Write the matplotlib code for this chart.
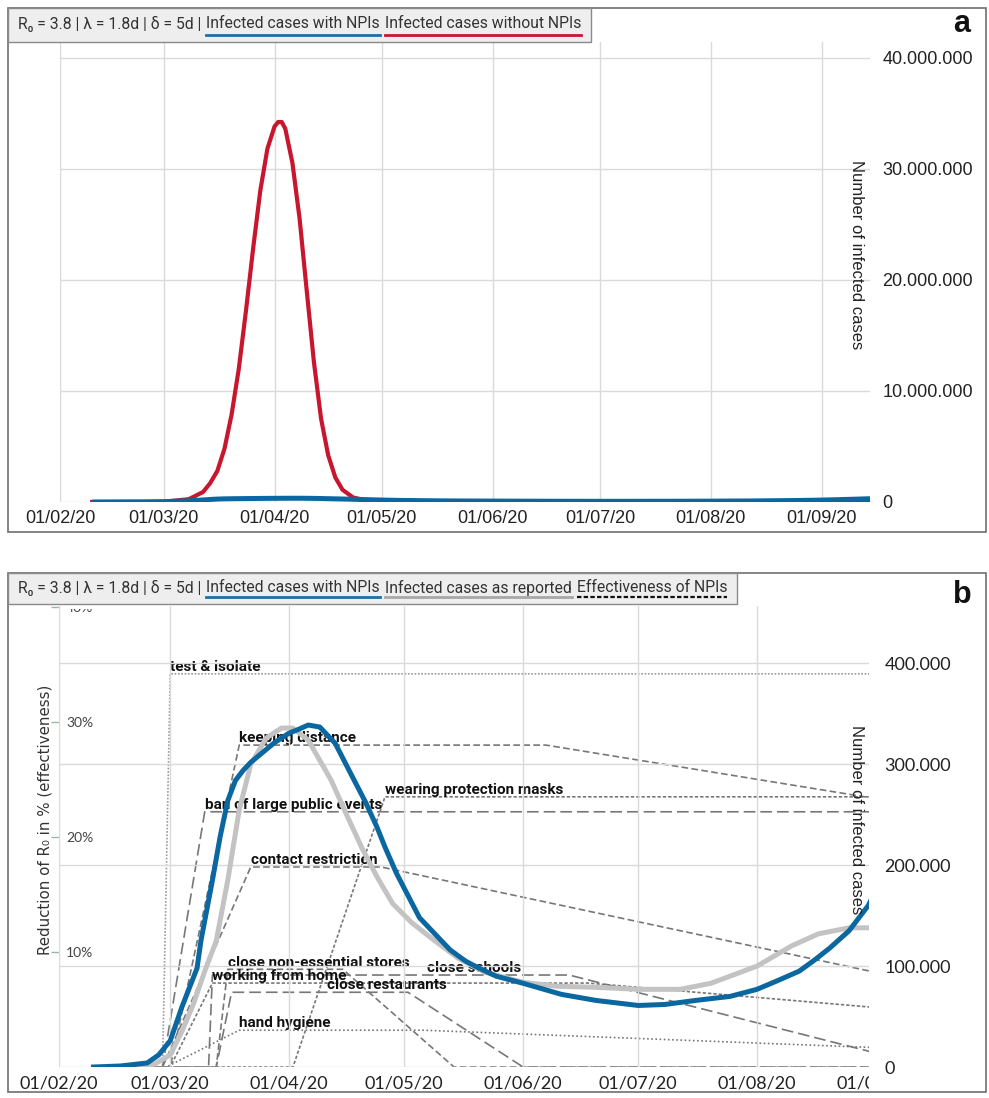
import matplotlib
matplotlib.use('Agg')
import matplotlib.pyplot as plt
import matplotlib.dates as mdates
from matplotlib.lines import Line2D
from matplotlib.patches import Rectangle
from matplotlib.transforms import Bbox, TransformedBbox, offset_copy
import numpy as np
import pandas as pd

# ---- data ----
# infected cases with NPIs (blue), both panels
npi_case_dates = ['2020-02-10', '2020-02-17', '2020-02-24', '2020-02-27', '2020-03-01', '2020-03-04',
                  '2020-03-08', '2020-03-09', '2020-03-12', '2020-03-14', '2020-03-16', '2020-03-18',
                  '2020-03-20', '2020-03-22', '2020-03-28', '2020-04-01', '2020-04-03', '2020-04-06',
                  '2020-04-09', '2020-04-13', '2020-04-18', '2020-04-21', '2020-04-24', '2020-04-26',
                  '2020-04-29', '2020-05-02', '2020-05-05', '2020-05-08', '2020-05-10', '2020-05-13',
                  '2020-05-17', '2020-05-20', '2020-05-25', '2020-06-01', '2020-06-11', '2020-06-20',
                  '2020-07-01', '2020-07-08', '2020-07-16', '2020-07-25', '2020-08-01', '2020-08-06',
                  '2020-08-12', '2020-08-16', '2020-08-20', '2020-08-25', '2020-08-30', '2020-09-05',
                  '2020-09-10', '2020-09-15']
npi_cases = [0, 1000, 4000, 12000, 26000, 59000,
             98000, 125000, 185000, 228000, 264000, 284000,
             294000, 302000, 321000, 331000, 334000, 339000,
             337000, 321000, 284000, 262000, 237000, 218000,
             192000, 170000, 148000, 136000, 128000, 116000,
             105000, 99000, 90000, 83000, 72000, 66000,
             61000, 62000, 66000, 70000, 77000, 85000,
             95000, 106000, 118000, 135000, 160000, 205000,
             250000, 300000]

# infected cases without NPIs (red), panel a
free_dates = ['2020-02-10', '2020-03-01', '2020-03-08', '2020-03-12', '2020-03-14', '2020-03-16',
              '2020-03-18', '2020-03-20', '2020-03-22', '2020-03-24', '2020-03-26', '2020-03-28',
              '2020-03-30', '2020-04-01', '2020-04-02', '2020-04-03', '2020-04-04', '2020-04-06',
              '2020-04-08', '2020-04-10', '2020-04-12', '2020-04-14', '2020-04-16', '2020-04-18',
              '2020-04-20', '2020-04-23', '2020-04-27', '2020-05-03', '2020-06-01', '2020-09-15']
free_cases = [0, 0.03e6, 0.25e6, 0.9e6, 1.7e6, 2.8e6,
              4.8e6, 7.9e6, 12.0e6, 17.2e6, 22.8e6, 28.0e6,
              31.8e6, 33.8e6, 34.2e6, 34.2e6, 33.6e6, 30.5e6,
              25.5e6, 19.0e6, 12.6e6, 7.5e6, 4.2e6, 2.2e6,
              1.1e6, 0.4e6, 0.12e6, 0.03e6, 0, 0.05e6]

# infected cases as reported (gray), panel b
rep_dates = ['2020-02-22', '2020-02-26', '2020-03-01', '2020-03-04', '2020-03-07', '2020-03-10',
             '2020-03-13', '2020-03-16', '2020-03-19', '2020-03-22', '2020-03-26', '2020-03-30',
             '2020-04-02', '2020-04-06', '2020-04-12', '2020-04-16', '2020-04-20', '2020-04-24',
             '2020-04-28', '2020-05-03', '2020-05-08', '2020-05-15', '2020-05-22', '2020-06-01',
             '2020-06-10', '2020-06-20', '2020-07-01', '2020-07-12', '2020-07-20', '2020-08-01',
             '2020-08-10', '2020-08-17', '2020-08-25', '2020-08-31']
rep_cases = [0, 3000, 12000, 35000, 62000, 95000,
             125000, 185000, 255000, 300000, 326000, 336000,
             336000, 324000, 284000, 250000, 217000, 188000,
             162000, 143000, 128000, 108000, 94000, 84000,
             80000, 79000, 77000, 77000, 83000, 100000,
             120000, 132000, 138000, 138000]

# effectiveness of each NPI in %
npi_names = ['test & isolate', 'keeping distance', 'ban of large public events',
             'wearing protection masks', 'contact restriction', 'close non-essential stores',
             'close schools', 'working from home', 'close restaurants', 'hand hygiene']
npi_dates = [
    ['2020-02-10', '2020-02-28', '2020-03-01', '2020-09-15'],
    ['2020-02-10', '2020-03-01', '2020-03-19', '2020-06-07', '2020-08-31'],
    ['2020-02-10', '2020-02-28', '2020-03-10', '2020-09-15'],
    ['2020-02-10', '2020-04-02', '2020-04-26', '2020-09-15'],
    ['2020-02-10', '2020-02-28', '2020-03-22', '2020-04-25', '2020-08-31'],
    ['2020-02-10', '2020-03-13', '2020-03-16', '2020-04-15', '2020-05-14', '2020-09-15'],
    ['2020-02-10', '2020-03-11', '2020-03-12', '2020-06-13', '2020-08-31'],
    ['2020-02-10', '2020-03-01', '2020-03-12', '2020-06-18', '2020-08-31'],
    ['2020-02-10', '2020-03-13', '2020-03-17', '2020-05-02', '2020-06-01', '2020-09-15'],
    ['2020-02-10', '2020-02-29', '2020-03-19', '2020-05-06', '2020-08-31'],
]
npi_values = [
    [0, 0, 34.2, 34.2],
    [0, 0, 28.0, 28.0, 23.4],
    [0, 0, 22.2, 22.2],
    [0, 0, 23.5, 23.5],
    [0, 0, 17.4, 17.4, 8.3],
    [0, 0, 8.5, 8.5, 0, 0],
    [0, 0, 8.0, 8.0, 1.3],
    [0, 0, 7.3, 7.3, 5.2],
    [0, 0, 6.5, 6.5, 0, 0],
    [0, 0, 3.2, 3.2, 1.7],
]
npi_label_dates = ['2020-03-01', '2020-03-19', '2020-03-10', '2020-04-26', '2020-03-22',
                   '2020-03-16', '2020-05-07', '2020-03-12', '2020-04-11', '2020-03-19']

cases_ticks_a = [0, 10e6, 20e6, 30e6, 40e6]
cases_ticks_b = [0, 100e3, 200e3, 300e3, 400e3]
pct_ticks = [10, 20, 30, 40]

# ---- styles ----
BLUE = '#0b67a0'
RED = '#c8162f'
GRAY = '#c3c3c3'
GRID = '#dadada'
npi_styles = [(0, (1, 1)), (0, (4, 2)), (0, (7, 3)), (0, (2, 1.2)), (0, (4, 2)),
              (0, (4, 2)), (0, (7, 3)), (0, (2, 1.2)), (0, (7, 3)), (0, (1, 1.5))]

W, H = 989, 1098
fig = plt.figure(figsize=(W / 100, H / 100), dpi=100)


def fx(x):
    return x / W


def fy(y):
    return 1 - y / H


def dots(v, _):
    return f"{int(round(v)):,}".replace(",", ".")


d_npi = pd.to_datetime(npi_case_dates)

# ================= panel a =================
ax_a = fig.add_axes([fx(60), fy(502), (870 - 60) / W, (502 - 42) / H])
ax_a.plot(pd.to_datetime(free_dates), free_cases, color=RED, lw=3, zorder=3,
          solid_joinstyle='round')
ax_a.plot(d_npi, npi_cases, color=BLUE, lw=3.6, zorder=4, solid_capstyle='butt')
ax_a.set_xlim(pd.Timestamp('2020-02-01'), pd.Timestamp('2020-09-14 12:00'))
ax_a.set_ylim(0, 41.4e6)
ax_a.yaxis.tick_right()
ax_a.set_yticks(cases_ticks_a)
ax_a.yaxis.set_major_formatter(plt.FuncFormatter(dots))
ax_a.xaxis.set_major_locator(mdates.MonthLocator())
ax_a.xaxis.set_major_formatter(mdates.DateFormatter('%d/%m/%y'))
ax_a.grid(color=GRID, lw=1)
ax_a.set_axisbelow(True)
for s in ax_a.spines.values():
    s.set_visible(False)
ax_a.tick_params(length=0, labelsize=13, labelcolor='#222')
ax_a.tick_params(axis='y', pad=9)
ax_a.tick_params(axis='x', pad=6)
for lab in ax_a.get_xticklabels() + ax_a.get_yticklabels():
    lab.set_family('Liberation Sans')
fig.text(fx(857), fy(255), 'Number of infected cases', rotation=270, ha='center',
         va='center', fontsize=12, color='#222', family='Liberation Sans')

# ================= panel b =================
ax_b = fig.add_axes([fx(59), fy(1067), (869 - 59) / W, (1067 - 606) / H])
ax_e = ax_b.twinx()
ax_b.set_zorder(ax_e.get_zorder() + 1)
ax_b.patch.set_visible(False)

for name, dts, vals, ls, ld in zip(npi_names, npi_dates, npi_values, npi_styles, npi_label_dates):
    dd = pd.to_datetime(dts)
    col = '#9a9a9a' if name == 'test & isolate' else '#777777'
    ax_e.plot(dd, vals, color=col, lw=1.2, linestyle=ls, zorder=2)
    ldt = pd.Timestamp(ld)
    pct = np.interp(mdates.date2num(ldt), mdates.date2num(dd), vals)
    ax_e.annotate(name, (ldt, pct), xytext=(0, 2), textcoords='offset points',
                  ha='left', va='baseline', fontsize=11, fontweight='bold',
                  family='Roboto', color='#111', zorder=3)

ax_b.plot(pd.to_datetime(rep_dates), rep_cases, color=GRAY, lw=3.6, zorder=3,
          solid_joinstyle='round')
ax_b.plot(d_npi, npi_cases, color=BLUE, lw=3.6, zorder=4, solid_joinstyle='round')

xmin, xmax = pd.Timestamp('2020-02-01'), pd.Timestamp('2020-08-30 05:00')
ax_b.set_xlim(xmin, xmax)
ax_b.set_ylim(0, 457e3)
ax_e.set_ylim(0, 40.1)
ax_b.yaxis.tick_right()
ax_e.yaxis.tick_left()
ax_b.set_yticks(cases_ticks_b)
ax_b.yaxis.set_major_formatter(plt.FuncFormatter(dots))
ax_b.xaxis.set_major_locator(mdates.MonthLocator())
ax_b.xaxis.set_major_formatter(mdates.DateFormatter('%d/%m/%y'))
ax_b.grid(color=GRID, lw=1)
for ax in (ax_b, ax_e):
    for s in ax.spines.values():
        s.set_visible(False)
ax_b.tick_params(length=0, labelsize=13, labelcolor='#222')
ax_b.tick_params(axis='y', pad=11)
ax_b.tick_params(axis='x', pad=6)
for lab in ax_b.get_xticklabels() + ax_b.get_yticklabels():
    lab.set_family('Lato')

ax_e.set_yticks(pct_ticks)
ax_e.set_yticklabels([f'{p}%' for p in pct_ticks])
ax_e.tick_params(axis='y', direction='out', length=6, width=1, color='#9bb8a4',
                 labelsize=10, labelcolor='#444', pad=-11)
ax_e.tick_params(axis='x', length=0)
# the top label sits under the legend box: only its lower edge shows
top_clip = TransformedBbox(Bbox([[0, 0], [1, fy(609)]]), fig.transFigure)
for lab in ax_e.get_yticklabels():
    lab.set_horizontalalignment('left')
    lab.set_family('Lato')
    lab.set_clip_box(top_clip)
    lab.set_clip_on(True)

# 01/09/20 label cut by the plot edge
sep = pd.Timestamp('2020-09-01')
t_sep = ax_b.text(sep, 0, sep.strftime('%d/%m/%y'), ha='center', va='top', fontsize=13,
                  color='#222', family='Lato',
                  transform=offset_copy(ax_b.get_xaxis_transform(), fig=fig, y=-6, units='points'))
t_sep.set_clip_box(TransformedBbox(Bbox([[-0.2, -0.3], [1.0, 1.0]]), ax_b.transAxes))
t_sep.set_clip_on(True)

fig.text(fx(45), fy(820), 'Reduction of R₀ in % (effectiveness)', rotation=90, ha='center',
         va='center', fontsize=10.8, color='#333', family='DejaVu Sans')
fig.text(fx(857), fy(820), 'Number of infected cases', rotation=270, ha='center',
         va='center', fontsize=12, color='#222', family='Liberation Sans')

# ================= frames, legends, letters =================
for (y0, y1) in [(8, 532), (573, 1092)]:
    fig.add_artist(Rectangle((fx(8), fy(y1)), (986 - 8) / W, (y1 - y0) / H,
                             transform=fig.transFigure, fill=False, edgecolor='#707070', lw=1.2))

renderer = fig.canvas.get_renderer()


def legend_row(y_top, y_bot, items):
    yc = (y_top + y_bot) / 2 - 1
    x = 18
    for txt, col, ls in items:
        t = fig.text(fx(x), fy(yc), txt, ha='left', va='center', fontsize=11.3,
                     color='#333', family='Roboto', zorder=6)
        bb = t.get_window_extent(renderer=renderer)
        if col is not None:
            fig.add_artist(Line2D([bb.x0 / W, bb.x1 / W], [fy(y_bot - 7)] * 2, color=col,
                                  lw=2 if ls == '-' else 1.6, linestyle=ls,
                                  transform=fig.transFigure, zorder=6))
        x = bb.x1 + 5
    box = Rectangle((fx(8), fy(y_bot)), (x + 5 - 8) / W, (y_bot - y_top) / H,
                    transform=fig.transFigure, facecolor='#eeeeee', edgecolor='#8a8a8a',
                    lw=1, zorder=5)
    fig.add_artist(box)


legend_row(8, 42, [('R₀ = 3.8 | λ = 1.8d | δ = 5d |', None, '-'),
                   ('Infected cases with NPIs', '#1f6fa5', '-'),
                   ('Infected cases without NPIs', RED, '-')])
legend_row(573, 604, [('R₀ = 3.8 | λ = 1.8d | δ = 5d |', None, '-'),
                      ('Infected cases with NPIs', '#1f6fa5', '-'),
                      ('Infected cases as reported', '#a8a8a8', '-'),
                      ('Effectiveness of NPIs', '#111111', (0, (2, 1)))])

fig.text(fx(962), fy(24), 'a', ha='center', va='center', fontsize=22, fontweight='bold',
         family='Liberation Sans', color='#111')
fig.text(fx(962), fy(595), 'b', ha='center', va='center', fontsize=22, fontweight='bold',
         family='Liberation Sans', color='#111')

fig.savefig('out.png', dpi=100, facecolor='white')
